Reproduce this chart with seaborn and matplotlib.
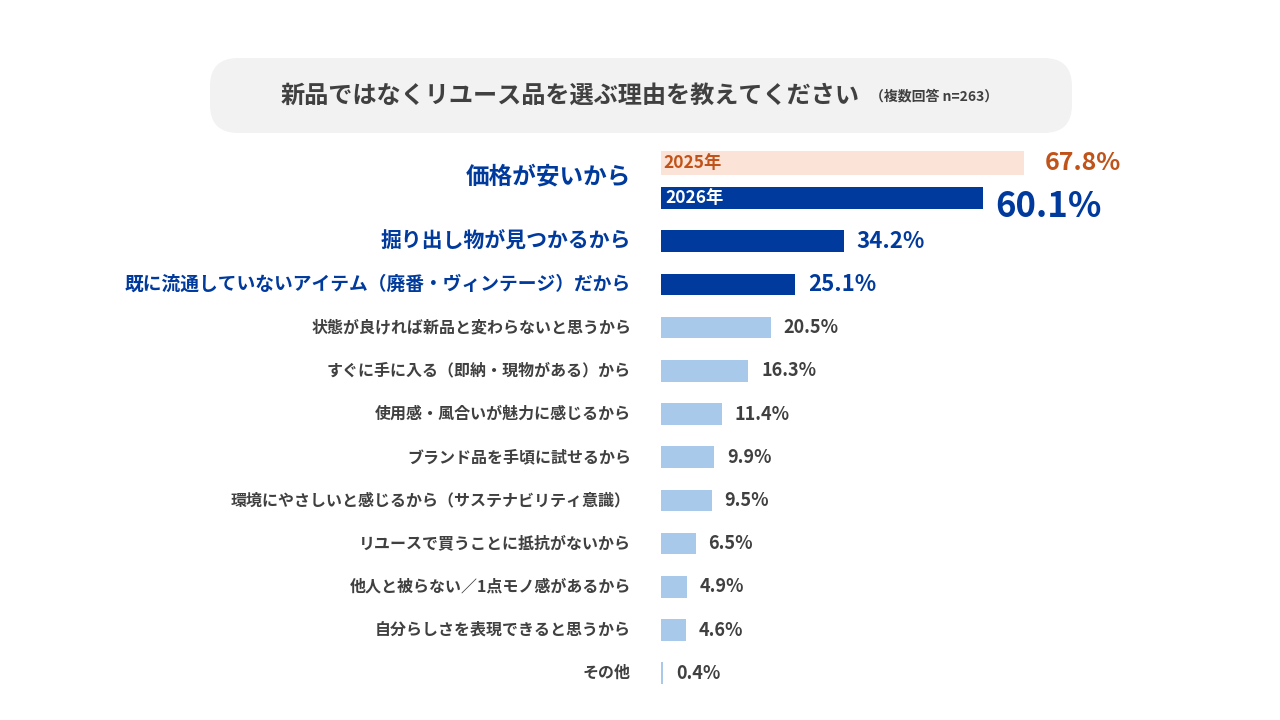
import matplotlib
matplotlib.use("Agg")
import matplotlib.pyplot as plt
from matplotlib.patches import FancyBboxPatch
import seaborn as sns
import pandas as pd

# data
reasons = [
    "価格が安いから",
    "掘り出し物が見つかるから",
    "既に流通していないアイテム（廃番・ヴィンテージ）だから",
    "状態が良ければ新品と変わらないと思うから",
    "すぐに手に入る（即納・現物がある）から",
    "使用感・風合いが魅力に感じるから",
    "ブランド品を手頃に試せるから",
    "環境にやさしいと感じるから（サステナビリティ意識）",
    "リユースで買うことに抵抗がないから",
    "他人と被らない／1点モノ感があるから",
    "自分らしさを表現できると思うから",
    "その他",
]
values_2026 = [60.1, 34.2, 25.1, 20.5, 16.3, 11.4, 9.9, 9.5, 6.5, 4.9, 4.6, 0.4]
value_2025 = 67.8
title = "新品ではなくリユース品を選ぶ理由を教えてください"
subtitle = "（複数回答 n=263）"

DARK = "#003A9C"
LIGHT = "#A8C9EA"
PEACH = "#FBE3D8"
ORANGE = "#C0531A"
GRAY = "#404040"

sns.set_theme(style="white")
plt.rcParams["font.family"] = ["Noto Sans CJK JP", "DejaVu Sans"]

df = pd.DataFrame({"reason": reasons, "value": values_2026})
palette = {r: (DARK if i < 3 else LIGHT) for i, r in enumerate(reasons)}

fig = plt.figure(figsize=(12.8, 7.2), dpi=100)

# title box (rounded corners ~28px)
box = FancyBboxPatch((210 / 1280, 1 - 133 / 720), 862 / 1280, 75 / 720,
                     boxstyle="round,pad=0,rounding_size=0.022",
                     transform=fig.transFigure, facecolor="#F2F2F2",
                     edgecolor="none", mutation_aspect=1280 / 720)
fig.patches.append(box)
fig.text(281 / 1280, 1 - 96 / 720, title, fontsize=17.4, fontweight="bold",
         color=GRAY, va="center", ha="left")
fig.text(870 / 1280, 1 - 97 / 720, subtitle, fontsize=10, fontweight="bold",
         color=GRAY, va="center", ha="left")

# axes: x from 661px, 5.35 px per %
ax = fig.add_axes([661 / 1280, 20 / 720, 535 / 1280, 560 / 720])
sns.barplot(data=df, x="value", y="reason", hue="reason", palette=palette,
            legend=False, width=0.5, orient="h", ax=ax, saturation=1,
            linewidth=0)
ax.barh(-0.81, value_2025, height=0.56, color=PEACH, linewidth=0)

ax.set_xlim(0, 100)
ax.set_ylim((700 - 198) / 43.2, (140 - 198) / 43.2)
ax.axis("off")

# category labels
for i, r in enumerate(reasons):
    if i == 0:
        ax.text(-5.6, -0.51, r, ha="right", va="center", fontsize=17,
                fontweight="bold", color=DARK)
    elif i < 3:
        ax.text(-5.6, i, r, ha="right", va="center",
                fontsize=15 if i == 1 else 13.5, fontweight="bold", color=DARK)
    else:
        ax.text(-5.6, i, r, ha="right", va="center", fontsize=11.5,
                fontweight="bold", color=GRAY)

# value labels
for i, v in enumerate(values_2026):
    if i == 0:
        ax.text(v + 2.4, i + 0.2, f"{v}%", ha="left", va="center",
                fontsize=25, fontweight="bold", color=DARK)
    elif i < 3:
        ax.text(v + 2.4, i, f"{v}%", ha="left", va="center",
                fontsize=16, fontweight="bold", color=DARK)
    else:
        ax.text(v + 2.4, i, f"{v}%", ha="left", va="center",
                fontsize=13, fontweight="bold", color=GRAY)
ax.text(value_2025 + 3.9, -0.81, f"{value_2025}%", ha="left", va="center",
        fontsize=18, fontweight="bold", color=ORANGE)

ax.text(0.5, -0.81, "2025年", ha="left", va="center", fontsize=12.5,
        fontweight="bold", color=ORANGE)
ax.text(0.8, 0, "2026年", ha="left", va="center", fontsize=12.5,
        fontweight="bold", color="white")

fig.savefig("out.png", dpi=100, facecolor="white")
